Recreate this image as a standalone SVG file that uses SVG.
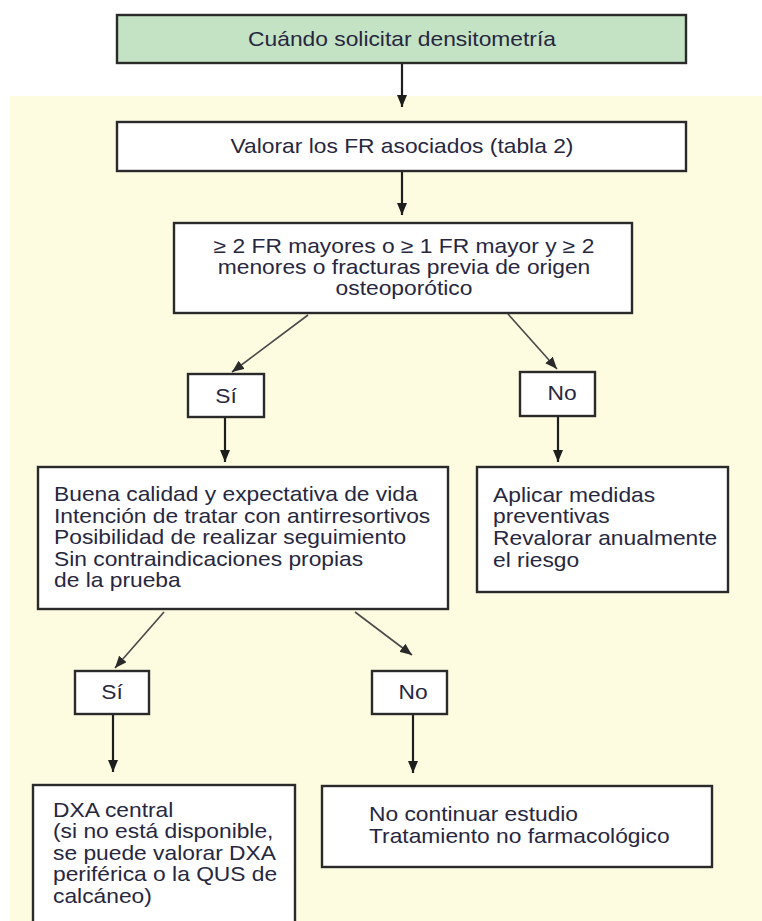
<svg xmlns="http://www.w3.org/2000/svg" width="762" height="921" viewBox="0 0 762 921">
<style>
.box{fill:#ffffff;stroke:#2a2a2a;stroke-width:2.4}
.green{fill:#c4e2c4}
text{font-family:"Liberation Sans",Arial,sans-serif;font-size:20px;fill:#27273f}
.c{text-anchor:middle}
.v{stroke:#1e1e1e;stroke-width:2.2;fill:none}
.d{stroke:#4a4a4a;stroke-width:1.6;fill:none}
</style>
<defs>
<marker id="ah" viewBox="0 0 12 10" refX="12" refY="5" markerWidth="12" markerHeight="10" markerUnits="userSpaceOnUse" orient="auto">
<path d="M0,0 L12,5 L0,10 z" fill="#1e1e1e"/>
</marker>
<marker id="ahd" viewBox="0 0 12 10" refX="12" refY="5" markerWidth="12" markerHeight="10" markerUnits="userSpaceOnUse" orient="auto">
<path d="M0,0 L12,5 L0,10 z" fill="#2a2a2a"/>
</marker>
</defs>
<rect x="0" y="0" width="762" height="921" fill="#ffffff"/>
<rect x="10" y="96" width="752" height="825" fill="#fdfbe0"/>

<g id="connectors">
<line class="v" x1="402" y1="63" x2="402" y2="107" marker-end="url(#ah)"/>
<line class="v" x1="402" y1="171" x2="402" y2="215" marker-end="url(#ah)"/>
<line class="d" x1="308" y1="315" x2="232" y2="372" marker-end="url(#ahd)"/>
<line class="d" x1="508" y1="314" x2="557" y2="369" marker-end="url(#ahd)"/>
<line class="v" x1="225" y1="417" x2="225" y2="462" marker-end="url(#ah)"/>
<line class="v" x1="558" y1="416" x2="558" y2="462" marker-end="url(#ah)"/>
<line class="d" x1="164" y1="612" x2="115" y2="668" marker-end="url(#ahd)"/>
<line class="d" x1="355" y1="612" x2="412" y2="655" marker-end="url(#ahd)"/>
<line class="v" x1="113" y1="714" x2="113" y2="772" marker-end="url(#ah)"/>
<line class="v" x1="413" y1="714" x2="413" y2="773" marker-end="url(#ah)"/>
</g>

<g id="n-start">
<rect class="box green" x="117" y="15" width="569" height="48"/>
<g transform="translate(402,0) scale(1.14,1)"><text class="c" x="0" y="46">Cuándo solicitar densitometría</text></g>
</g>
<g id="n-valorar">
<rect class="box" x="117" y="122" width="569" height="49"/>
<g transform="translate(402,0) scale(1.14,1)"><text class="c" x="0" y="153">Valorar los FR asociados (tabla 2)</text></g>
</g>
<g id="n-criterio">
<rect class="box" x="174" y="223" width="458" height="90"/>
<g transform="translate(404,0) scale(1.14,1)">
<text class="c" x="0" y="253">≥ 2 FR mayores o ≥ 1 FR mayor y ≥ 2</text>
<text class="c" x="0" y="274">menores o fracturas previa de origen</text>
<text class="c" x="0" y="295">osteoporótico</text>
</g>
</g>
<g id="n-si1">
<rect class="box" x="188" y="374" width="76" height="43"/>
<g transform="translate(226,0) scale(1.14,1)"><text class="c" x="0" y="403">Sí</text></g>
</g>
<g id="n-no1">
<rect class="box" x="520" y="372" width="75" height="44"/>
<g transform="translate(562,0) scale(1.14,1)"><text class="c" x="0" y="400">No</text></g>
</g>
<g id="n-condiciones">
<rect class="box" x="38" y="467" width="410" height="142"/>
<g transform="translate(54,0) scale(1.14,1)">
<text x="0" y="501">Buena calidad y expectativa de vida</text>
<text x="0" y="523">Intención de tratar con antirresortivos</text>
<text x="0" y="544">Posibilidad de realizar seguimiento</text>
<text x="0" y="566">Sin contraindicaciones propias</text>
<text x="0" y="587">de la prueba</text>
</g>
</g>
<g id="n-preventivas">
<rect class="box" x="477" y="467" width="251" height="125"/>
<g transform="translate(493,0) scale(1.14,1)">
<text x="0" y="502">Aplicar medidas</text>
<text x="0" y="523">preventivas</text>
<text x="0" y="545">Revalorar anualmente</text>
<text x="0" y="567">el riesgo</text>
</g>
</g>
<g id="n-si2">
<rect class="box" x="75" y="671" width="74" height="43"/>
<g transform="translate(112,0) scale(1.14,1)"><text class="c" x="0" y="699">Sí</text></g>
</g>
<g id="n-no2">
<rect class="box" x="372" y="671" width="75" height="43"/>
<g transform="translate(413,0) scale(1.14,1)"><text class="c" x="0" y="699">No</text></g>
</g>
<g id="n-dxa">
<rect class="box" x="33" y="785" width="262" height="145"/>
<g transform="translate(53,0) scale(1.14,1)">
<text x="0" y="817">DXA central</text>
<text x="0" y="838">(si no está disponible,</text>
<text x="0" y="860">se puede valorar DXA</text>
<text x="0" y="881">periférica o la QUS de</text>
<text x="0" y="903">calcáneo)</text>
</g>
</g>
<g id="n-nocontinuar">
<rect class="box" x="322" y="786" width="390" height="81"/>
<g transform="translate(369,0) scale(1.14,1)">
<text x="0" y="821">No continuar estudio</text>
<text x="0" y="843">Tratamiento no farmacológico</text>
</g>
</g>
</svg>
